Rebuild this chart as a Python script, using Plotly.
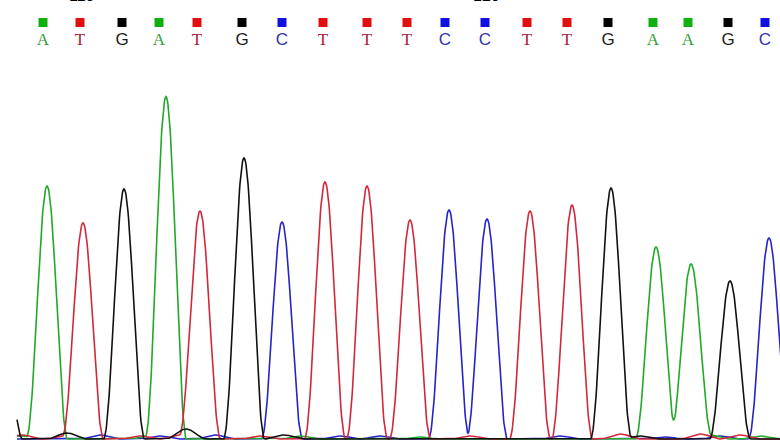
import numpy as np
import plotly.graph_objects as go

# ---- data ----
bases = ["A", "T", "G", "A", "T", "G", "C", "T", "T", "T",
         "C", "C", "T", "T", "G", "A", "A", "G", "C"]
call_pos = [43, 80, 122, 159, 197, 242, 282, 323, 367, 407,
            445, 485, 527, 567, 608, 653, 688, 728, 765]
peak_pos = [47, 83, 124, 166, 200, 244, 282, 325, 367, 410,
            449, 487, 530, 572, 611, 656, 691, 730, 769]
peak_height = [253, 216, 250, 342, 228, 281, 217, 257, 253, 219,
               229, 220, 228, 234, 251, 192, 175, 158, 201]

# leading peak (off the left edge) and small background bumps per channel
extra_peaks = {
    "G": [(2, 116), (67, 6), (186, 10), (284, 4), (640, 3)],
    "A": [(20, 3), (150, 3), (300, 3), (420, 2), (710, 4), (760, 3)],
    "T": [(22, 4), (65, 3), (140, 3), (180, 4), (260, 3), (470, 3), (620, 5), (700, 5), (740, 4)],
    "C": [(100, 4), (160, 3), (215, 4), (340, 3), (380, 3), (560, 3), (665, 2), (720, 3)],
}
tick_numbers = ["110", "120"]
tick_pos = [82, 486]

scan_start, scan_end = 17, 800
half_width = 20.5  # raised-cosine peak half-width in scans

line_colors = {"G": "#111111", "A": "#22a82a", "T": "#d2283c", "C": "#2424c8"}
square_colors = {"G": "#000000", "A": "#10b010", "T": "#e01010", "C": "#1010e0"}
letter_colors = {"G": "#202020", "A": "#36a03a", "T": "#a8203c", "C": "#3434a8"}
letter_fonts = {"G": "Liberation Sans", "C": "Liberation Sans",
                "A": "Liberation Serif", "T": "Liberation Serif"}

x = np.arange(scan_start, scan_end, 0.5)


def peak_shape(d):
    u = np.clip(np.abs(d) / half_width, 0, 1)
    return np.cos(np.pi * u / 2) ** 2


fig = go.Figure()
for ch in ["C", "A", "T", "G"]:
    y = np.zeros_like(x)
    peaks = [(p, h) for b, p, h in zip(bases, peak_pos, peak_height) if b == ch]
    peaks += extra_peaks[ch]
    for p, h in peaks:
        y += h * peak_shape(x - p)
    fig.add_trace(go.Scatter(x=x, y=y, mode="lines",
                             line=dict(color=line_colors[ch], width=1.6),
                             hoverinfo="skip", showlegend=False))

# base-call squares and letters
fig.add_trace(go.Scatter(
    x=call_pos, y=[416.5] * len(bases), mode="markers",
    marker=dict(symbol="square", size=9, color=[square_colors[b] for b in bases]),
    hoverinfo="skip", showlegend=False))
fig.add_trace(go.Scatter(
    x=call_pos, y=[398] * len(bases), mode="text", text=bases,
    textfont=dict(family=[letter_fonts[b] for b in bases], size=17,
                  color=[letter_colors[b] for b in bases]),
    hoverinfo="skip", showlegend=False))

for t, p in zip(tick_numbers, tick_pos):
    fig.add_annotation(x=p, y=1, xref="x", yref="paper", text=t,
                       showarrow=False, yanchor="middle", yshift=5,
                       font=dict(family="Liberation Sans", size=16, color="#000"))

fig.update_layout(
    width=780, height=442,
    margin=dict(l=0, r=0, t=0, b=0),
    paper_bgcolor="white", plot_bgcolor="white",
    xaxis=dict(range=[0, 780], visible=False),
    yaxis=dict(range=[-3, 439], visible=False),
    hovermode=False,
)
fig.write_html("out.html", config={"displayModeBar": False},
               post_script="document.body.style.margin='0';document.body.style.overflow='hidden';")
